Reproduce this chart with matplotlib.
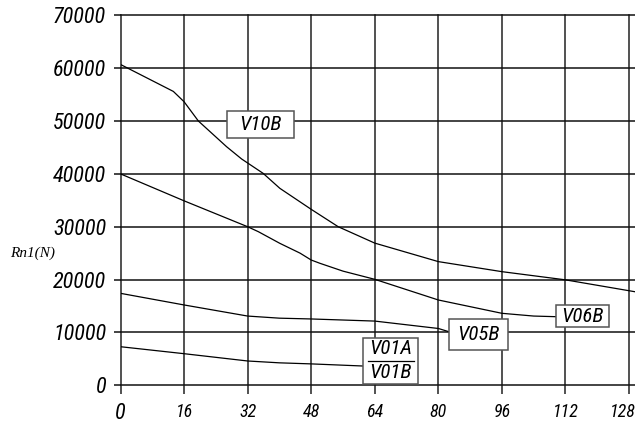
import matplotlib
matplotlib.use("Agg")
import matplotlib.pyplot as plt
import matplotlib.transforms as mtransforms
from matplotlib.patches import Rectangle

# curves (stroke in mm, force in N)
v10b_x = [0, 13.3, 16, 19.6, 26.7, 30.5, 35.9, 40.1, 48, 54.8, 64, 80, 96, 112, 129.5]
v10b_y = [60700, 55600, 53650, 50000, 45140, 42810, 40100, 37270, 33290, 30000,
          26900, 23400, 21500, 19950, 17700]

v06b_x = [0, 16, 32, 34.7, 40.1, 45.2, 48, 50.2, 56, 64, 80, 96, 104, 109.6]
v06b_y = [40000, 34900, 30000, 29060, 26860, 25000, 23700, 23080, 21600, 20050,
          16140, 13620, 13100, 12980]

v05b_x = [0, 16, 32, 40, 48, 64, 80, 82.6]
v05b_y = [17400, 15200, 13100, 12700, 12550, 12150, 10750, 10150]

v01_x = [0, 16, 32, 40, 48, 61]
v01_y = [7300, 5980, 4600, 4250, 4050, 3650]

x_ticks = [0, 16, 32, 48, 64, 80, 96, 112, 128]
y_ticks = [0, 10000, 20000, 30000, 40000, 50000, 60000, 70000]

# label boxes: text, x0, x1, y0, y1 (data coords)
boxes = [
    ("V10B", 26.8, 43.7, 46780, 51890),
    ("V06B", 109.6, 123.0, 10970, 15130),
    ("V05B", 82.6, 97.6, 6730, 12540),
]
v01_box = (61.0, 75.0, 300, 8890)

narrow = ["Roboto Condensed", "DejaVu Sans"]

fig = plt.figure(figsize=(6.35, 4.25), dpi=100)
ax = fig.add_axes([120.5 / 635, 39.7 / 425, 514.5 / 635, 370 / 425])
ax.set_xlim(0, 129.5)
ax.set_ylim(0, 70000)
for s in ax.spines.values():
    s.set_visible(False)

for v in x_ticks:
    ax.axvline(v, color="#222222", lw=1.1, clip_on=False, zorder=1)
for v in y_ticks:
    ax.axhline(v, color="#111111", lw=1.1, clip_on=False, zorder=1)

for xs, ys in [(v10b_x, v10b_y), (v06b_x, v06b_y), (v05b_x, v05b_y), (v01_x, v01_y)]:
    ax.plot(xs, ys, color="black", lw=0.9, zorder=3)

ax.set_xticks(x_ticks)
ax.set_yticks(y_ticks)
ax.set_xticklabels([str(v) for v in x_ticks], family=narrow, style="italic", fontsize=13)
ax.set_yticklabels([str(v) for v in y_ticks], family=narrow, style="italic", fontsize=16)
ax.tick_params(axis="x", length=6.5, width=1.1, color="#222222", pad=6)
ax.tick_params(axis="y", length=5.4, width=1.1, color="#111111", pad=5)
xlabels = ax.get_xticklabels()
xlabels[0].set_fontsize(16)
# last label sits against the right edge
shift = mtransforms.ScaledTranslation(-6 / 100, 0, fig.dpi_scale_trans)
xlabels[-1].set_transform(xlabels[-1].get_transform() + shift)

for text, x0, x1, y0, y1 in boxes:
    ax.add_patch(Rectangle((x0, y0), x1 - x0, y1 - y0, facecolor="white",
                           edgecolor="#555555", lw=1.1, zorder=4))
    ax.text((x0 + x1) / 2, (y0 + y1) / 2, text, ha="center", va="center",
            family=narrow, style="italic", fontsize=15, zorder=5)

x0, x1, y0, y1 = v01_box
ax.add_patch(Rectangle((x0, y0), x1 - x0, y1 - y0, facecolor="white",
                       edgecolor="#555555", lw=1.1, zorder=4))
ym = (y0 + y1) / 2
ax.plot([x0 + 1.2, x1 - 1.2], [ym, ym], color="black", lw=0.9, zorder=5)
ax.text((x0 + x1) / 2, (ym + y1) / 2 + 300, "V01A", ha="center", va="center",
        family=narrow, style="italic", fontsize=15, zorder=5)
ax.text((x0 + x1) / 2, (y0 + ym) / 2 - 100, "V01B", ha="center", va="center",
        family=narrow, style="italic", fontsize=15, zorder=5)

fig.text(10 / 635, 1 - 253 / 425, "Rn1(N)", ha="left", va="center",
         family=["Liberation Serif", "DejaVu Serif"], style="italic", fontsize=11)

fig.savefig("out.png", dpi=100)
